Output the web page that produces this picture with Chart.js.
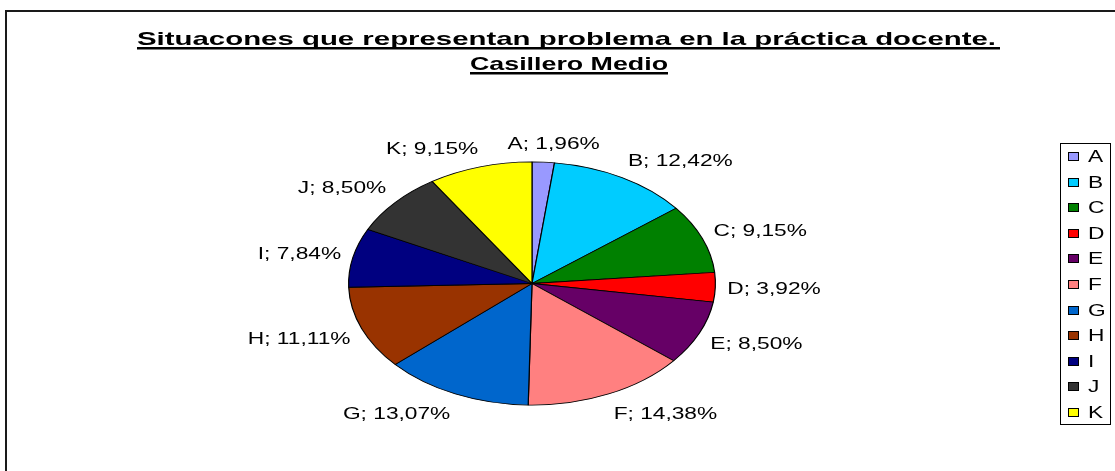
<!DOCTYPE html>
<html>
<head>
<meta charset="utf-8">
<script src="https://cdn.jsdelivr.net/npm/chart.js@4.4.1/dist/chart.umd.min.js"></script>
<style>
  html, body { margin: 0; padding: 0; background: #ffffff; }
  #wrap { width: 1115px; height: 471px; position: relative; }
  canvas { display: block; }
</style>
</head>
<body>
<div id="wrap"><canvas id="c" width="1115" height="471"></canvas></div>
<script>
const categories = ['A', 'B', 'C', 'D', 'E', 'F', 'G', 'H', 'I', 'J', 'K'];
const percentages = [1.96, 12.42, 9.15, 3.92, 8.50, 14.38, 13.07, 11.11, 7.84, 8.50, 9.15];
const sliceColors = ['#9999FF', '#00CCFF', '#008000', '#FF0000', '#660066', '#FF8080',
                     '#0066CC', '#993300', '#000080', '#333333', '#FFFF00'];
const titleLines = ['Situacones que representan problema en la práctica docente.', 'Casillero Medio'];

const FONT = '"Liberation Sans", Arial, sans-serif';
const TEXT_SX = 1.42;         // horizontal stretch of the reference text
const Y_SQUASH = 122 / 184;   // vertical squash of the pie

function fmt(v) { return v.toFixed(2).replace('.', ',') + '%'; }

function stretchedText(ctx, text, x, y, sx, align) {
  ctx.save();
  ctx.translate(x, y);
  ctx.scale(sx, 1);
  ctx.textAlign = align || 'center';
  ctx.fillText(text, 0, 0);
  ctx.restore();
}

const ellipsePlugin = {
  id: 'ellipse',
  beforeDatasetsDraw(chart) {
    const arc = chart.getDatasetMeta(0).data[0];
    const ctx = chart.ctx;
    ctx.save();
    ctx.translate(arc.x, arc.y);
    ctx.scale(1, Y_SQUASH);
    ctx.translate(-arc.x, -arc.y);
  },
  afterDatasetsDraw(chart) {
    chart.ctx.restore();
  }
};

const decorPlugin = {
  id: 'decor',
  afterDraw(chart) {
    const ctx = chart.ctx;
    const meta = chart.getDatasetMeta(0);
    // frame
    ctx.save();
    ctx.fillStyle = '#1a1a1a';
    ctx.fillRect(5, 10, 1115 - 5, 2);
    ctx.fillRect(5, 10, 2, 471 - 10);
    ctx.restore();

    // title
    ctx.save();
    ctx.fillStyle = '#000';
    ctx.font = 'bold 19px ' + FONT;
    ctx.textBaseline = 'alphabetic';
    const spans = [[137, 996, 1000], [470, 668, 668]];
    const baselines = [45, 70];
    titleLines.forEach((line, i) => {
      const w0 = ctx.measureText(line).width;
      const [x0, x1, ux1] = spans[i];
      const tsx = (x1 - x0) / w0;
      stretchedText(ctx, line, x0, baselines[i], tsx, 'left');
      ctx.fillRect(x0, baselines[i] + 2, ux1 - x0, 2.5);
    });
    ctx.restore();

    // data labels
    ctx.save();
    ctx.fillStyle = '#000';
    ctx.font = '16px ' + FONT;
    ctx.textBaseline = 'middle';
    meta.data.forEach((arc, i) => {
      const a = (arc.startAngle + arc.endAngle) / 2;
      const rx = arc.outerRadius + 12;
      const ry = arc.outerRadius * Y_SQUASH + 12;
      const ax = arc.x + rx * Math.cos(a);
      const ay = arc.y + ry * Math.sin(a);
      const text = categories[i] + '; ' + fmt(percentages[i]);
      const w = ctx.measureText(text).width * TEXT_SX;
      const f = Math.max(-1, Math.min(1, 3.4 * Math.cos(a)));
      const g = Math.max(-1, Math.min(1, -1.5 * Math.sin(a)));
      stretchedText(ctx, text, ax + f * w / 2, ay - g * 8 + 2, TEXT_SX, 'center');
    });
    ctx.restore();

    // legend
    ctx.save();
    const lx = 1060.5, ly = 143.5, lw = 50, lh = 281;
    ctx.fillStyle = '#fff';
    ctx.fillRect(lx, ly, lw, lh);
    ctx.strokeStyle = '#000';
    ctx.lineWidth = 1;
    ctx.strokeRect(lx, ly, lw, lh);
    ctx.font = '16px ' + FONT;
    ctx.textBaseline = 'middle';
    categories.forEach((cat, i) => {
      const y = 156.5 + i * 25.6;
      ctx.fillStyle = sliceColors[i];
      ctx.fillRect(1068, Math.round(y - 4.5), 11, 9);
      ctx.strokeStyle = '#000';
      ctx.lineWidth = 1;
      ctx.strokeRect(1068.5, Math.round(y - 4.5) + 0.5, 10, 8);
      ctx.fillStyle = '#000';
      stretchedText(ctx, cat, 1088, y + 1, TEXT_SX, 'left');
    });
    ctx.restore();
  }
};

new Chart(document.getElementById('c'), {
  type: 'pie',
  data: {
    labels: categories,
    datasets: [{
      data: percentages,
      backgroundColor: sliceColors,
      borderColor: '#000000',
      borderWidth: 1.2
    }]
  },
  options: {
    responsive: false,
    animation: false,
    events: [],
    layout: { padding: { left: 348, right: 399, top: 99.5, bottom: 3.5 } },
    plugins: {
      legend: { display: false },
      title: { display: false },
      tooltip: { enabled: false }
    }
  },
  plugins: [ellipsePlugin, decorPlugin]
});
</script>
</body>
</html>
